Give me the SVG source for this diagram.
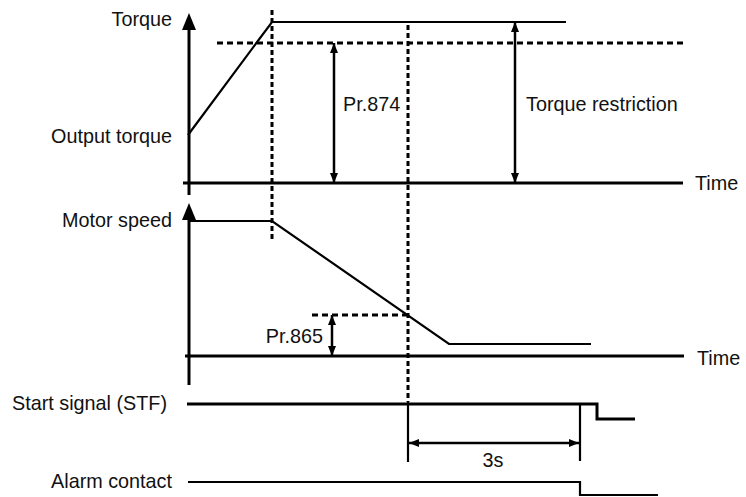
<svg xmlns="http://www.w3.org/2000/svg" width="746" height="497" viewBox="0 0 746 497">
<style>
text{font-family:"Liberation Sans",Arial,sans-serif;font-size:19.8px;fill:#111}
.ax{stroke:#000;stroke-width:3;fill:none}
.ln{stroke:#000;stroke-width:2.2;fill:none}
.dot{stroke:#000;stroke-width:3;stroke-dasharray:6 4;fill:none}
.vdot{stroke:#000;stroke-width:3;stroke-dasharray:5 3;fill:none}
.dim{stroke:#000;stroke-width:2.5;fill:none}
</style>
<defs>
<marker id="ah" viewBox="0 0 10 8" refX="10" refY="4" markerWidth="10" markerHeight="8" markerUnits="userSpaceOnUse" orient="auto-start-reverse">
<path d="M0,0 L10,4 L0,8 Z" fill="#000"/>
</marker>
</defs>
<g id="labels">
<text x="172" y="26" text-anchor="end">Torque</text>
<text x="172" y="143" text-anchor="end">Output torque</text>
<text x="172" y="227" text-anchor="end">Motor speed</text>
<text x="12" y="410">Start signal (STF)</text>
<text x="172" y="488" text-anchor="end">Alarm contact</text>
<text x="695" y="190">Time</text>
<text x="697" y="365">Time</text>
<text x="343" y="111">Pr.874</text>
<text x="526" y="111">Torque restriction</text>
<text x="323" y="343" text-anchor="end">Pr.865</text>
<text x="493" y="467" text-anchor="middle">3s</text>
</g>
<g id="axes">
<line class="ax" x1="189" y1="28" x2="189" y2="195"/>
<path d="M189,13 L182,30 L196,30 Z" fill="#000"/>
<line class="ax" x1="183" y1="183" x2="683" y2="183"/>
<line class="ax" x1="189" y1="218" x2="189" y2="385"/>
<path d="M189,203 L182,220 L196,220 Z" fill="#000"/>
<line class="ax" x1="185" y1="356" x2="684" y2="356"/>
</g>
<g id="connectors">
<polyline class="ln" points="188,135 272,22 566,22"/>
<polyline class="ln" points="189,221 272,221 449,344 591,344"/>
<line class="dot" x1="217" y1="43" x2="683" y2="43"/>
<line class="vdot" x1="272" y1="10" x2="272" y2="242"/>
<line class="vdot" x1="408" y1="25" x2="408" y2="402"/>
<line class="ln" x1="408" y1="402" x2="408" y2="462"/>
<line class="dot" x1="312" y1="315" x2="408" y2="315"/>
<line class="dim" x1="334" y1="43" x2="334" y2="183" marker-start="url(#ah)" marker-end="url(#ah)"/>
<line class="dim" x1="515" y1="22" x2="515" y2="183" marker-start="url(#ah)" marker-end="url(#ah)"/>
<line class="dim" x1="332" y1="315" x2="332" y2="356" marker-start="url(#ah)" marker-end="url(#ah)"/>
<polyline class="ax" points="187,404 597,404 597,419 635,419"/>
<line class="ln" x1="580" y1="404" x2="580" y2="461"/>
<line class="dim" x1="409" y1="443" x2="579" y2="443" marker-start="url(#ah)" marker-end="url(#ah)"/>
<polyline class="ln" points="188,482 580,482 580,495 658,495"/>
</g>
</svg>
